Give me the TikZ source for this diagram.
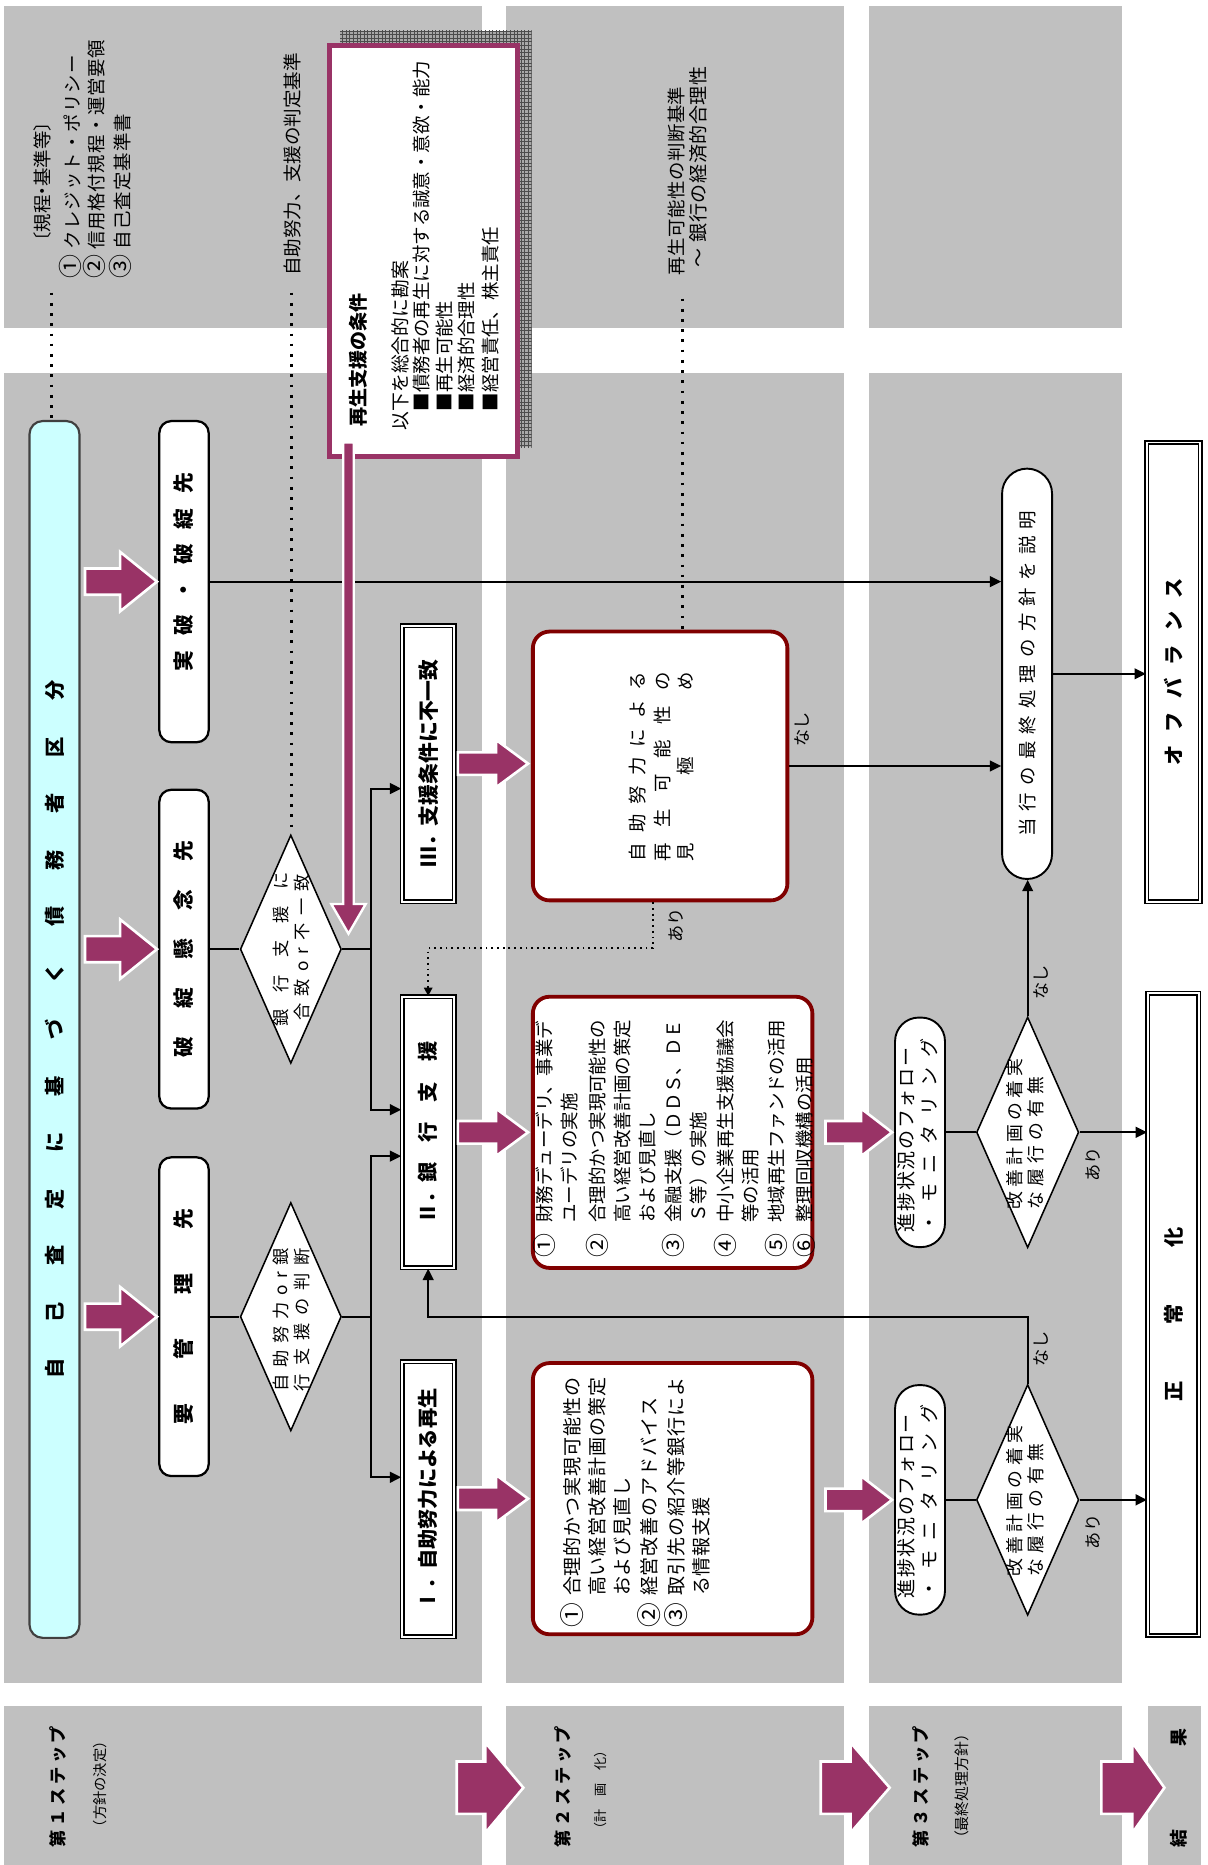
\documentclass[tikz,border=0pt]{standalone}
\usepackage{fontspec}
\setmainfont{Noto Sans CJK JP}
\usepackage{graphicx}
\usetikzlibrary{shapes.geometric,arrows.meta,patterns}
\definecolor{panelc}{HTML}{C0C0C0}
\definecolor{magc}{HTML}{993366}
\definecolor{cyanc}{HTML}{CCFFFF}
\definecolor{maroonc}{HTML}{800000}
\definecolor{bordc}{HTML}{404040}
\definecolor{shadowc}{HTML}{A8A8A8}
\newcommand\fz[1]{\fontsize{#1}{#1}\selectfont}
\newcommand\rt[1]{\rotatebox{90}{#1}}
\newcommand\cn[1]{\scalebox{1.3}{#1}}
\def\dstA#1{#1\dstB}
\def\dstB#1{\ifx#1\relax\else\hfill#1\expandafter\dstB\fi}
\newcommand\dst[2]{\makebox[#1]{\dstA#2\relax}}
\newlength\lspamt
\def\lspA#1{#1\lspB}
\def\lspB#1{\ifx#1\relax\else\hspace{\lspamt}#1\expandafter\lspB\fi}
\newcommand\lsp[2]{\setlength\lspamt{#1}\lspA#2\relax}
\newcommand\marr[6]{\filldraw[fill=magc,draw=white,line width=2.2pt] (#1,#4-#5) -- (#2,#4-#5) -- (#2,#4-#6) -- (#3,#4) -- (#2,#4+#6) -- (#2,#4+#5) -- (#1,#4+#5) -- cycle;}
\tikzset{
 conn/.style={line width=1.7pt,-{Triangle[length=9.5pt,width=9pt]}},
 lnk/.style={line width=1.7pt},
 bigdots/.style={line width=2.3pt,dash pattern=on 2.3pt off 6.3pt},
 smalldots/.style={line width=1.5pt,dash pattern=on 1.5pt off 3.3pt},
 rbox/.style={draw=black,line width=1.9pt,fill=white,rounded corners=10pt,inner sep=0pt},
 stad/.style={draw=black,line width=1.6pt,fill=white,rounded corners=20pt,inner sep=0pt},
 tbox/.style={draw=maroonc,line width=3.2pt,fill=white,rounded corners=14pt,inner sep=0pt},
 dbox/.style={draw=black,line width=1.3pt,double=white,double distance=1.6pt,fill=white,inner sep=0pt},
 dia/.style={draw=black,line width=1.3pt,fill=white,diamond,inner sep=0pt},
 txt/.style={inner sep=0pt},
 lbl/.style={inner sep=0pt,anchor=south},
}
\begin{document}
\begin{tikzpicture}[x=1pt,y=-1pt,line join=miter]
\useasboundingbox (0,0) rectangle (1015,1568);
% panels
\fill[panelc] (3,5) rectangle (405,276);
\fill[panelc] (425,5) rectangle (710,276);
\fill[panelc] (731,5) rectangle (943,276);
\fill[panelc] (3,314) rectangle (405,1415);
\fill[panelc] (425,314) rectangle (710,1415);
\fill[panelc] (731,314) rectangle (943,1415);
\fill[panelc] (3,1434) rectangle (405,1568);
\fill[panelc] (425,1434) rectangle (710,1568);
\fill[panelc] (731,1434) rectangle (943,1568);
\fill[panelc] (965,1434) rectangle (1010,1568);

% top texts column 1
\node[lbl] (s0) at (36,211) {\rt{\fz{15.5}〔規程\hspace{-4pt}・\hspace{-4pt}基準等〕}};
\node[lbl] (s1) at (59.4,234) {\rt{\fz{15.5}\cn{①}\hspace{4pt}\dst{163pt}{クレジット・ポリシー}}};
\node[lbl] (s2) at (79.6,234) {\rt{\fz{15.5}\cn{②}\hspace{4pt}\dst{176pt}{信用格付規程・運営要領}}};
\node[lbl] (s3) at (101.4,234) {\rt{\fz{15.5}\cn{③}\hspace{4pt}\dst{114pt}{自己査定基準書}}};
\node[lbl] (s4) at (246,232) {\rt{\fz{15.6}自助努力、支援の判定基準}};
% top texts column 2
\node[lbl] (s5) at (568.6,232) {\rt{\fz{15.5}\dst{159pt}{再生可能性の判断基準}}};
\node[lbl] (s6) at (587,225) {\rt{\fz{16}～\hspace{5pt}\dst{148pt}{銀行の経済的合理性}}};

% condition box with shadow
\fill[shadowc] (286,26) rectangle (447,376);
\fill[pattern=grid,pattern color=gray!60!black] (286,26) rectangle (447,376);
\node[draw=magc,line width=4pt,fill=white,minimum width=158pt,minimum height=345.5pt,inner sep=0pt] (cond) at (356,211.25) {};
\node[lbl] (c0) at (301,359) {\rt{\fz{16}\bfseries 再生支援の条件}};
\node[lbl] (c1) at (336.5,362) {\rt{\fz{15.8}以下を総合的に勘案}};
\node[lbl] (c2) at (354.6,346) {\rt{\fz{15.5}■債務者の再生に対する誠意・意欲・能力}};
\node[lbl] (c3) at (374,346) {\rt{\fz{15.5}■再生可能性}};
\node[lbl] (c4) at (392.5,346) {\rt{\fz{15.5}■経済的合理性}};
\node[lbl] (c5) at (412,346) {\rt{\fz{15.5}■経営責任、株主責任}};

% main nodes
\node[draw=bordc,line width=1.8pt,fill=cyanc,rounded corners=11pt,inner sep=0pt,minimum width=42pt,minimum height=1023pt] (cy) at (45.8,865.5) {\rt{\fz{17}\bfseries\dst{587pt}{自己査定に基づく債務者区分}}};
\node[rbox,minimum width=41.5pt,minimum height=268pt] (yk) at (154.7,1107) {\rt{\fz{17.5}\bfseries\dst{181pt}{要管理先}}};
\node[rbox,minimum width=41.5pt,minimum height=268pt] (hk) at (154.7,798) {\rt{\fz{17.5}\bfseries\dst{182pt}{破綻懸念先}}};
\node[rbox,minimum width=41.5pt,minimum height=270pt] (jh) at (154.7,489) {\rt{\fz{17.5}\bfseries\hspace{16pt}\dst{167pt}{実破・破綻先}}};

\node[dia,minimum width=85pt,minimum height=192pt] (d1) at (244.5,1107) {};
\node[dia,minimum width=85pt,minimum height=192pt] (d2) at (244.5,798) {};
\node[txt] (d1a) at (236.6,1109.5) {\rt{\fz{14.5}\dst{120pt}{自助努力or銀}}};
\node[txt] (d1b) at (254,1109.5) {\rt{\fz{14.5}\dst{120pt}{行支援の判断}}};
\node[txt] (d2a) at (236.6,798) {\rt{\fz{14.5}\dst{130pt}{銀行支援に}}};
\node[txt] (d2b) at (254,796.5) {\rt{\fz{14.5}\dst{123pt}{合致or不一致}}};

\node[dbox,minimum width=44pt,minimum height=231pt] (b1) at (360,1260.5) {\rt{\fz{17}\bfseries Ⅰ．自助努力による再生}};
\node[dbox,minimum width=44pt,minimum height=228pt] (b2) at (360,952) {\rt{\fz{17}\bfseries Ⅱ．銀　行　支　援}};
\node[dbox,minimum width=44pt,minimum height=232pt] (b3) at (360,642) {\rt{\fz{17.5}\bfseries Ⅲ．支援条件に不一致}};

\node[tbox,minimum width=235pt,minimum height=228pt] (tb1) at (565.5,1260) {};
\node[tbox,minimum width=235pt,minimum height=228pt] (tb2) at (565.5,952) {};
\node[tbox,minimum width=214pt,minimum height=226pt] (mk) at (555,644) {};

\node[stad,minimum width=42pt,minimum height=193pt] (m1) at (773.5,952) {};
\node[stad,minimum width=42pt,minimum height=193pt] (m2) at (773.5,1261) {};
\node[dia,minimum width=86pt,minimum height=194pt] (e1) at (864,952) {};
\node[dia,minimum width=86pt,minimum height=194pt] (e2) at (864,1261) {};
\node[stad,minimum width=42pt,minimum height=345pt,rounded corners=21pt] (tk) at (863.5,566.5) {\rt{\fz{15.5}\dst{274pt}{当行の最終処理の方針を説明}}};
\node[dbox,minimum width=45pt,minimum height=386pt] (ob) at (986.5,565) {\rt{\fz{17}\bfseries\dst{158pt}{オフバランス}}};
\node[dbox,minimum width=43pt,minimum height=540pt] (sj) at (986.5,1105) {\rt{\fz{17}\bfseries\dst{147pt}{正常化}}};

% texts inside boxes
\node[txt] (k1) at (536,644.5) {\rt{\fz{15.5}\dst{159pt}{自助努力による}}};
\node[txt] (k2) at (557,644.5) {\rt{\fz{15.5}\dst{159pt}{再生可能性の}}};
\node[txt] (k3) at (576,644.5) {\rt{\fz{15.5}\dst{159pt}{見極め}}};

\node[lbl] (q1a) at (762,1036) {\rt{\fz{16}\dst{155pt}{進捗状況のフォロー}}};
\node[lbl] (q1b) at (781,1036) {\rt{\fz{16}\dst{163pt}{・モニタリング}}};
\node[lbl] (q2a) at (762,1344) {\rt{\fz{16}\dst{155pt}{進捗状況のフォロー}}};
\node[lbl] (q2b) at (781,1344) {\rt{\fz{16}\dst{163pt}{・モニタリング}}};
\node[lbl] (r1a) at (853,1017) {\rt{\fz{15}\dst{127pt}{改善計画の着実}}};
\node[lbl] (r1b) at (871,1017) {\rt{\fz{15}\dst{112pt}{な履行の有無}}};
\node[lbl] (r2a) at (853,1326) {\rt{\fz{15}\dst{127pt}{改善計画の着実}}};
\node[lbl] (r2b) at (871,1326) {\rt{\fz{15}\dst{112pt}{な履行の有無}}};

% text box II
\node[txt] (u1n) at (458,1047) {\rt{\fz{15.5}\cn{①}}};
\node[lbl] (u1) at (458,1028) {\rt{\fz{15.5}財務デューデリ、事業デ}};
\node[lbl] (u2) at (479,1028) {\rt{\fz{15.5}ユーデリの実施}};
\node[txt] (u3n) at (502,1047) {\rt{\fz{15.5}\cn{②}}};
\node[lbl] (u3) at (502,1028) {\rt{\fz{15.5}合理的かつ実現可能性の}};
\node[lbl] (u4) at (523,1028) {\rt{\fz{15.5}高い経営改善計画の策定}};
\node[lbl] (u5) at (544,1028) {\rt{\fz{15.5}および見直し}};
\node[txt] (u6n) at (566,1047) {\rt{\fz{15.5}\cn{③}}};
\node[lbl] (u6) at (566,1028) {\rt{\fz{15.5}金融支援（ＤＤＳ、ＤＥ}};
\node[lbl] (u7) at (587,1028) {\rt{\fz{15.5}Ｓ等）の実施}};
\node[txt] (u8n) at (610,1047) {\rt{\fz{15.5}\cn{④}}};
\node[lbl] (u8) at (610,1028) {\rt{\fz{15.5}中小企業再生支援協議会}};
\node[lbl] (u9) at (631,1028) {\rt{\fz{15.5}等の活用}};
\node[txt] (u10n) at (653,1047) {\rt{\fz{15.5}\cn{⑤}}};
\node[lbl] (u10) at (653,1028) {\rt{\fz{15.5}地域再生ファンドの活用}};
\node[txt] (u11n) at (676,1047) {\rt{\fz{15.5}\cn{⑥}}};
\node[lbl] (u11) at (676,1028) {\rt{\fz{15.5}整理回収機構の活用}};

% text box I
\node[txt] (v1n) at (481,1358) {\rt{\fz{16}\cn{①}}};
\node[lbl] (v1) at (481,1342) {\rt{\fz{16}\lsp{0.8pt}{合理的かつ実現可能性の}}};
\node[lbl] (v2) at (502,1342) {\rt{\fz{16}\lsp{0.8pt}{高い経営改善計画の策定}}};
\node[lbl] (v3) at (523,1342) {\rt{\fz{16}\lsp{0.8pt}{および見直し}}};
\node[txt] (v4n) at (546,1358) {\rt{\fz{16}\cn{②}}};
\node[lbl] (v4) at (546,1342) {\rt{\fz{16}\lsp{0.8pt}{経営改善のアドバイス}}};
\node[txt] (v5n) at (568.6,1358) {\rt{\fz{16}\cn{③}}};
\node[lbl] (v5) at (568.6,1342) {\rt{\fz{16}\lsp{0.8pt}{取引先の紹介等銀行によ}}};
\node[lbl] (v6) at (590,1342) {\rt{\fz{16}\lsp{0.8pt}{る情報支援}}};

% dotted guide lines
\coordinate (g1) at (43,246);
\coordinate (g2) at (245,246);
\coordinate (g3) at (574,251);
\draw[bigdots] (g1) -- (g1 |- cy.north);
\draw[bigdots] (g2) -- (g2 |- d2.north);
\draw[bigdots] (g3) -- (g3 |- mk.north);

% connectors
\draw[conn] (jh.east) -- (jh.east -| tk.west);
\coordinate (bus1) at (312,1107);
\coordinate (bus2) at (312,798);
\draw[lnk] (yk.east) -- (d1.west);
\draw[lnk] (d1.east) -- (bus1);
\draw[conn] (bus1) |- ([yshift=-20pt]b2.west);
\draw[conn] (bus1) |- ([yshift=18.5pt]b1.west);
\draw[lnk] (hk.east) -- (d2.west);
\draw[lnk] (d2.east) -- (bus2);
\draw[conn] (bus2) |- ([yshift=-21pt]b3.west);
\draw[conn] (bus2) |- ([yshift=19pt]b2.west);
\coordinate (dj) at (549,797);
\draw[smalldots,-{Triangle[length=7pt,width=7pt]}] ([xshift=-6pt]mk.south) -- (dj) -| (b2.north);
\draw[conn] (mk.east) -- (mk.east -| tk.west);
\draw[conn] (tk.east) -- (tk.east -| ob.west);
\draw[lnk] (m1.east) -- (e1.west);
\draw[lnk] (m2.east) -- (e2.west);
\draw[conn] (e1.east) -- (e1.east -| sj.west);
\draw[conn] (e2.east) -- (e2.east -| sj.west);
\draw[conn] (e1.north) -- (e1.north |- tk.south);
\coordinate (fb) at (864,1107);
\draw[conn] (e2.north) -- (fb) -| (b2.south);

% labels
\node[txt] (n1) at (674.6,613) {\rt{\fz{14.5}なし}};
\node[txt] (a1) at (568.5,778) {\rt{\fz{14.5}あり}};
\node[txt] (n2) at (875.6,826) {\rt{\fz{14.5}なし}};
\node[txt] (a2) at (919,979) {\rt{\fz{14.5}あり}};
\node[txt] (n3) at (875.6,1134) {\rt{\fz{14.5}なし}};
\node[txt] (a3) at (919,1288) {\rt{\fz{14.5}あり}};

% magenta block arrows
\marr{71.5}{101}{132}{489}{11}{25}
\marr{71.5}{101}{132}{798}{11}{25}
\marr{71.5}{101}{132}{1107}{11}{25}
\marr{385}{417}{444}{642}{9.5}{20}
\marr{385}{417}{444}{952}{9.5}{20}
\marr{385}{417}{444}{1260}{9.5}{20}
\marr{694}{724}{750}{952}{9.5}{20}
\marr{694}{724}{750}{1261}{9.5}{20}
\marr{384}{408}{440}{1503}{22}{38}
\marr{690}{715}{748}{1503}{22}{38}
\marr{926}{952}{979}{1503}{22}{38}
\filldraw[fill=magc,draw=white,line width=2pt] (288.6,372) -- (288.6,760) -- (278.5,760) -- (293,785) -- (307.5,760) -- (297.4,760) -- (297.4,372) -- cycle;

% step labels
\node[txt] (st1) at (48.5,1502) {\rt{\fz{14.5}\bfseries\dst{102pt}{第１ステップ}}};
\node[txt] (st1b) at (84,1500) {\rt{\fz{12}（方針の決定）}};
\node[txt] (st2) at (473,1502) {\rt{\fz{14.5}\bfseries\dst{102pt}{第２ステップ}}};
\node[txt] (st2b) at (505,1505) {\rt{\fz{11}（計　画　化）}};
\node[txt] (st3) at (774,1502) {\rt{\fz{14.5}\bfseries\dst{102pt}{第３ステップ}}};
\node[txt] (st3b) at (809,1502) {\rt{\fz{12.5}（最終処理方針）}};
\node[txt] (st4a) at (991,1546) {\rt{\fz{15}\bfseries 結}};
\node[txt] (st4b) at (991,1461) {\rt{\fz{15}\bfseries 果}};
\end{tikzpicture}
\end{document}
